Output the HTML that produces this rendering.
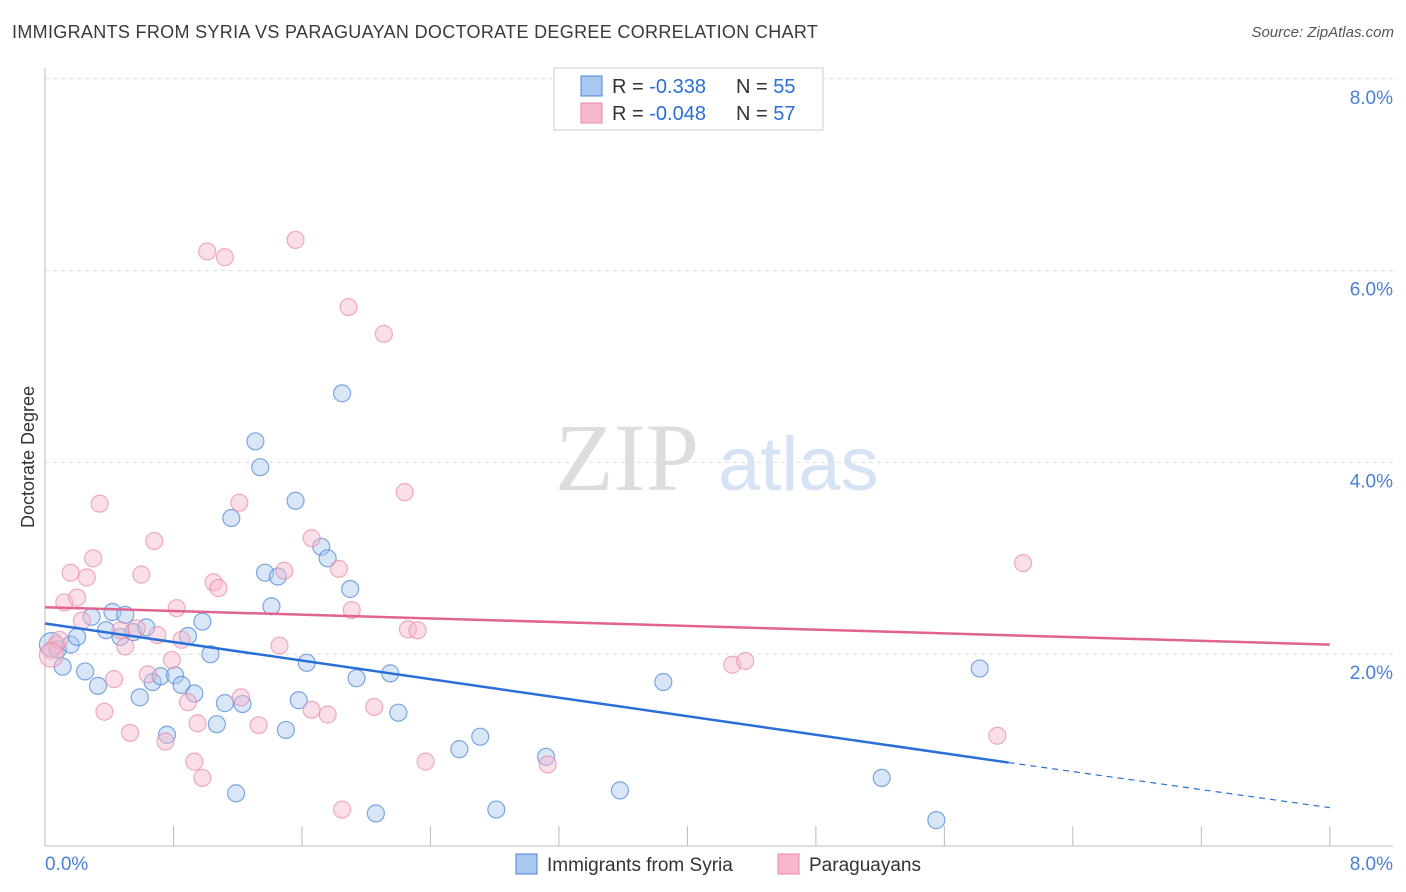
<!DOCTYPE html>
<html><head><meta charset="utf-8"><style>
body{margin:0;background:#fff;font-family:"Liberation Sans",sans-serif;}
#wrap{position:relative;width:1406px;height:892px;overflow:hidden;}
.t{position:absolute;white-space:nowrap;}
</style></head><body>
<div id="wrap">
<div class="t" style="left:12px;top:22px;font-size:18px;color:#3a3a3a;letter-spacing:0.32px;">IMMIGRANTS FROM SYRIA VS PARAGUAYAN DOCTORATE DEGREE CORRELATION CHART</div>
<div class="t" style="right:12px;top:24px;font-size:15px;color:#555;font-style:italic;">Source: ZipAtlas.com</div>
<svg id="svg" width="1406" height="892" style="position:absolute;left:0;top:0"></svg>
</div>
<script>
const blueX=[0.04,0.08,0.11,0.16,0.2,0.25,0.29,0.33,0.38,0.42,0.47,0.5,0.55,0.59,0.63,0.67,0.72,0.76,0.81,0.85,0.89,0.93,0.98,1.03,1.07,1.12,1.16,1.19,1.23,1.31,1.34,1.37,1.41,1.45,1.5,1.56,1.58,1.63,1.72,1.76,1.85,1.9,1.94,2.06,2.15,2.2,2.58,2.71,2.81,3.12,3.58,3.85,5.21,5.55,5.82];
const blueY=[2.1,2.05,1.87,2.1,2.18,1.82,2.39,1.67,2.25,2.44,2.18,2.41,2.23,1.55,2.28,1.71,1.77,1.16,1.78,1.68,2.19,1.59,2.34,2.0,1.27,1.49,3.42,0.55,1.48,4.22,3.95,2.85,2.50,2.81,1.21,3.6,1.52,1.91,3.12,3.0,4.72,2.68,1.75,0.34,1.8,1.39,1.01,1.14,0.38,0.93,0.58,1.71,0.71,0.27,1.85];
const pinkX=[0.04,0.07,0.09,0.12,0.16,0.2,0.23,0.26,0.3,0.34,0.37,0.43,0.47,0.5,0.53,0.57,0.6,0.64,0.68,0.7,0.75,0.79,0.82,0.85,0.89,0.93,0.95,0.98,1.01,1.05,1.08,1.12,1.21,1.22,1.33,1.46,1.49,1.56,1.66,1.66,1.76,1.83,1.85,1.89,1.91,2.05,2.11,2.24,2.26,2.32,2.37,3.13,4.28,4.36,5.93,6.09,0.04];
const pinkY=[2.04,2.1,2.15,2.54,2.85,2.59,2.35,2.8,3.0,3.57,1.4,1.74,2.25,2.08,1.18,2.27,2.83,1.79,3.18,2.2,1.09,1.94,2.48,2.15,1.5,0.88,1.28,0.71,6.2,2.75,2.69,6.14,3.58,1.55,1.26,2.09,2.87,6.32,1.42,3.21,1.37,2.89,0.38,5.62,2.46,1.45,5.34,3.69,2.26,2.25,0.88,0.85,1.89,1.93,1.15,2.95,1.99];
const xTicks=[0,0.8,1.6,2.4,3.2,4,4.8,5.6,6.4,7.2,8];
const yTicks=[2,4,6,8];
const X=v=>45+v*160.6, Y=v=>846-v*95.9;
const svg=document.getElementById('svg');const NS='http://www.w3.org/2000/svg';
function mk(t,a,p){const e=document.createElementNS(NS,t);for(const k in a)e.setAttribute(k,a[k]);(p||svg).appendChild(e);return e;}
let w=mk('text',{x:555,y:490,'font-size':96,'font-family':'Liberation Serif',fill:'#ddd'});w.textContent='ZIP';

let w2=mk('text',{x:718,y:490,'font-size':76,'font-family':'Liberation Sans',fill:'#d5e3f5'});w2.textContent='atlas';

yTicks.forEach(v=>{let l=mk('line',{x1:45,x2:1393,y1:Y(v),y2:Y(v),stroke:'#ddd','stroke-dasharray':'4,4'});

let t=mk('text',{x:1393,y:Y(v)+25,'text-anchor':'end','font-size':19,fill:'#4a7fd4'});t.textContent=v.toFixed(1)+'%';
});
let ax=mk('line',{x1:45,x2:1393,y1:846,y2:846,stroke:'#bbb'});
let ay=mk('line',{x1:45,x2:45,y1:68,y2:846,stroke:'#bbb'});
xTicks.forEach(v=>{let l=mk('line',{x1:X(v),x2:X(v),y1:826,y2:846,stroke:'#bbb'});});
[[0,'start',45],[8,'end',1393]].forEach(([v,a,x])=>{let t=mk('text',{x:x,y:870,'text-anchor':a,'font-size':19,fill:'#4a7fd4'});t.textContent=v.toFixed(1)+'%';
});
let yt=mk('text',{x:34,y:457,'text-anchor':'middle','font-size':18,fill:'#333',transform:'rotate(-90 34 457)'});yt.textContent='Doctorate Degree';

function pts(xs,ys,fill,stroke,name){xs.forEach((x,i)=>{const r=(i==0&&name=='blue')||(i==56)?12:8.5;
let c=mk('circle',{cx:X(x),cy:Y(ys[i]),r:r,fill:fill,'fill-opacity':0.45,stroke:stroke,'stroke-opacity':0.7,'stroke-width':1.2});
});}
pts(blueX,blueY,'#a9c8f0','#4a84d6','blue');
pts(pinkX,pinkY,'#f7b8cb','#e88aa8','pink');
let b1=mk('line',{x1:X(0),y1:Y(2.32),x2:X(6),y2:Y(0.87),stroke:'#2a6fd8','stroke-width':2.5});
let b2=mk('line',{x1:X(6),y1:Y(0.87),x2:X(8),y2:Y(0.4),stroke:'#2a6fd8','stroke-width':1.2,'stroke-dasharray':'6,5'});
let p1=mk('line',{x1:X(0),y1:Y(2.49),x2:X(8),y2:Y(2.1),stroke:'#e06390','stroke-width':2.5});
let lg=mk('rect',{x:554,y:68,width:269,height:62,fill:'#fff',stroke:'#ccc'});
[[86,'#a9c8f0','#4a84d6','-0.338','55'],[113,'#f7b8cb','#e88aa8','-0.048','57']].forEach(([y,f,s,r,n])=>{
let q=mk('rect',{x:581,y:y-10,width:21,height:20,fill:f,stroke:s});
let t=mk('text',{x:612,y:y+7,'font-size':20,fill:'#333'});
t.innerHTML='R = <tspan fill="#2a6fd8"> '+r+'</tspan><tspan x="736">N = </tspan><tspan fill="#2a6fd8">'+n+'</tspan>';});
[[516,'#a9c8f0','#4a84d6','Immigrants from Syria'],[778,'#f7b8cb','#e88aa8','Paraguayans']].forEach(([x,f,s,l])=>{
let q=mk('rect',{x:x,y:854,width:21,height:20,fill:f,stroke:s});
let t=mk('text',{x:x+31,y:871,'font-size':19,fill:'#333'});t.textContent=l;});
</script>
</body></html>
